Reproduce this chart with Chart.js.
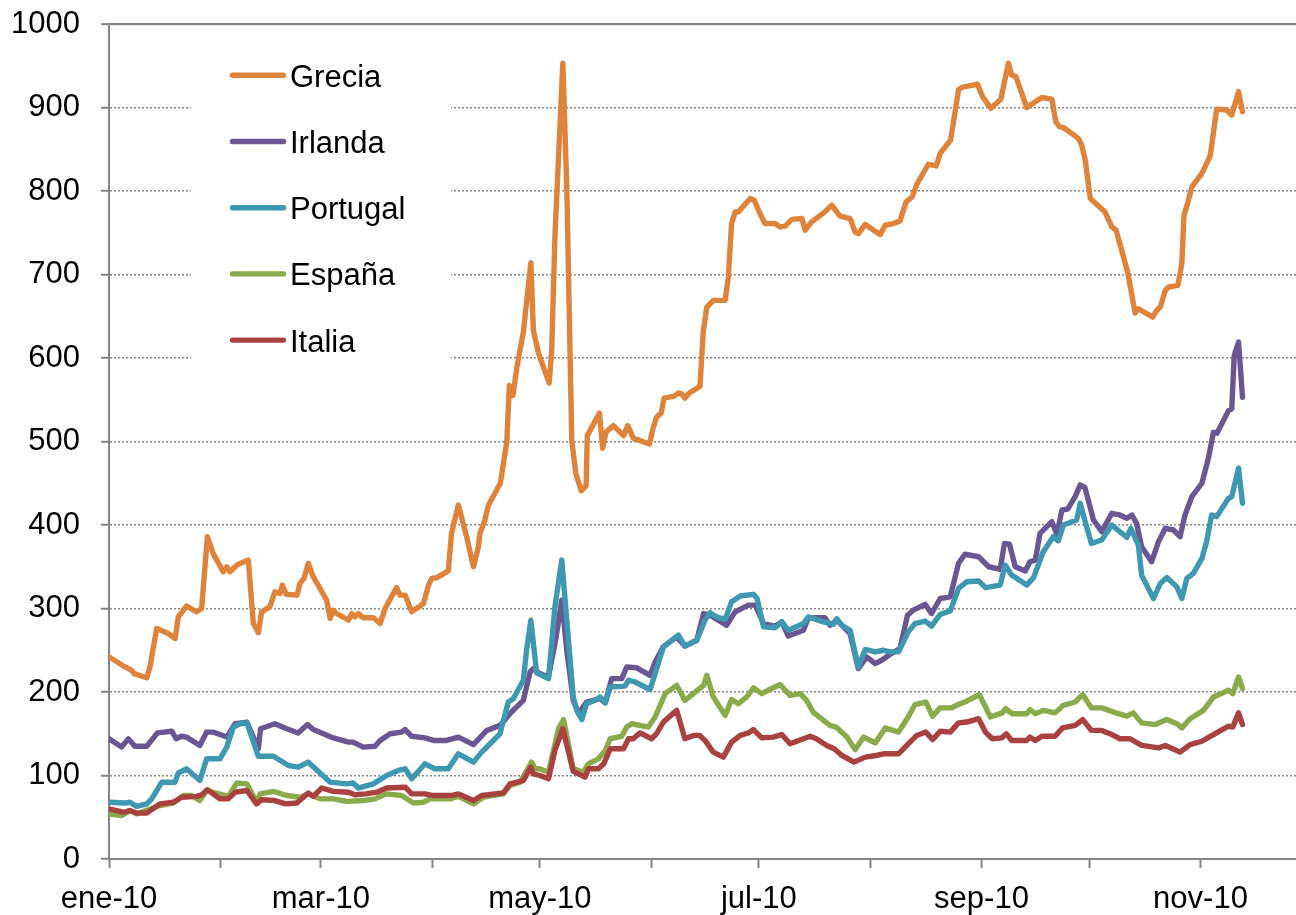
<!DOCTYPE html>
<html lang="es">
<head>
<meta charset="utf-8">
<title>Diferenciales</title>
<script src="https://cdn.jsdelivr.net/npm/chart.js@4.4.0/dist/chart.umd.min.js"></script>
<style>
  html, body { margin: 0; padding: 0; background: #fff; }
  #grafico { display: block; }
</style>
</head>
<body>
<canvas id="grafico" width="1296" height="915"></canvas>
<script>
// x axis: days since 1 Jan 2010, one tick per month, label every other month
const inicioMes = [0, 31, 59, 90, 120, 151, 181, 212, 243, 273, 304];
const etiquetasMes = ['ene-10', '', 'mar-10', '', 'may-10', '', 'jul-10', '', 'sep-10', '', 'nov-10'];

const diasGrecia = [0, 4.5, 6.3, 7, 10.5, 11.4, 13.3, 16.5, 18.4, 19.3, 21.6, 24.4, 25.8, 27.4, 29, 31.8, 32.8, 33.7, 35.6, 38.8,
  40.2, 41.6, 42.5, 44.8, 46.2, 47.6, 48.3, 49.4, 52.4, 53.2, 54.3, 55.5, 56.9, 60.6, 61.6, 62.5, 63.4, 66.7, 67.6, 68.5,
  69.4, 70.8, 73.6, 75.5, 76.9, 80.1, 81, 82.5, 84.3, 87.6, 89, 89.9, 91.3, 94.5, 95.4, 97.3, 99.6, 101.5, 102.9, 103.3,
  104.7, 105.7, 109, 110.8, 111.5, 112.5, 113.6, 115.4, 117.5, 118.2, 119.6, 122.6, 123.3, 124.2, 126.4, 127.5, 128.9, 130, 131.5, 132.9,
  133.2, 136.6, 137.5, 138.4, 140.5, 143.3, 144.5, 146, 150.5, 151.6, 152.5, 153.8, 154.6, 157.2, 158.6, 159.5, 160.4, 161.6, 164.6, 165.5,
  166.5, 168.3, 171.6, 172.5, 173.4, 174.4, 175.3, 178.6, 179.7, 181.3, 182.7, 185.5, 186.9, 188.3, 190.2, 193, 193.9, 195.7, 199.4, 201.3,
  203.6, 206.4, 207.8, 208.7, 210.6, 214.8, 216.2, 218.5, 220.3, 222, 223.7, 225, 228.2, 230.4, 231.5, 234.4, 236.6, 237.5, 241.9, 243.3,
  245.6, 248.4, 250.5, 251.4, 252.6, 255.6, 259.8, 262.6, 263.7, 264.7, 265.8, 270, 270.9, 271.9, 273.3, 277.4, 279.3, 280.5, 283.7, 285.8,
  286.7, 290.7, 291.8, 292.8, 294.2, 295.1, 297.7, 298.8, 299.4, 300.4, 301.6, 304.4, 306.7, 308.5, 311.3, 312.7, 314.6, 315.7];
const grecia = [242, 230, 226, 222, 217, 230, 276, 270, 264, 290, 303, 296, 300, 386, 366, 344, 350, 344, 352, 358,
  282, 271, 296, 302, 320, 318, 328, 317, 316, 330, 336, 354, 338, 310, 288, 298, 294, 286, 294, 290,
  294, 289, 289, 282, 300, 325, 316, 316, 296, 306, 328, 336, 337, 345, 390, 424, 386, 350, 374, 390,
  406, 424, 450, 500, 567, 555, 589, 631, 714, 633, 606, 570, 609, 745, 953, 805, 501, 462, 441, 447,
  507, 534, 492, 511, 519, 507, 519, 504, 497, 517, 529, 534, 552, 554, 558, 557, 552, 558, 566, 631,
  661, 669, 669, 697, 761, 775, 775, 791, 789, 773, 761, 761, 757, 758, 766, 767, 753, 763, 775, 783,
  770, 767, 751, 749, 760, 748, 759, 761, 764, 787, 793, 808, 832, 830, 845, 861, 921, 924, 928, 913,
  899, 910, 953, 939, 937, 900, 912, 910, 883, 877, 876, 863, 855, 837, 791, 775, 757, 753, 703, 654,
  659, 649, 657, 661, 681, 685, 687, 713, 771, 785, 805, 821, 842, 898, 897, 891, 919, 895];

const diasIrlanda = [0, 3.5, 5.4, 7.2, 10.5, 13.5, 17.5, 18.7, 20.2, 21.6, 25.3, 27.2, 29, 32.8, 35.1, 38.4, 41.6, 42.2, 46.2, 49.5,
  52.7, 55.3, 56.9, 62.5, 66.7, 68, 70.8, 74.1, 75.5, 78.3, 81.5, 82.5, 84.3, 88, 90.4, 94, 97.3, 101.5, 105.2, 108.9,
  112.1, 115.4, 117.3, 118.2, 120, 122.4, 124.5, 126.1, 127.5, 129.3, 130.8, 133, 136.8, 138.2, 140, 142.8, 144.2, 147, 150.7, 152.1,
  154.4, 158.1, 160.4, 163.7, 165.6, 167.4, 172, 174.4, 178.1, 180, 182.3, 185.5, 187.4, 189.2, 193.4, 194.8, 199.4, 200.8, 202.7, 206.4,
  208.7, 211, 213.4, 215.2, 217.5, 220.3, 222.4, 224, 227.3, 229.1, 231.5, 234.3, 236.6, 238.4, 242.2, 245, 248.2, 249.4, 250.8, 252.4,
  255.2, 256.5, 258, 259.3, 262.6, 264, 265.4, 267, 269.1, 270.5, 271.8, 274.2, 276.5, 279.3, 281.5, 283.5, 284.9, 286.2, 287.6, 290.4,
  292.3, 294.2, 296.5, 298.3, 299.7, 301.6, 304.4, 306.2, 307.6, 308.6, 311.8, 312.7, 313.4, 314.6, 315.7];
const irlanda = [144, 134, 144, 135, 135, 151, 153, 144, 147, 146, 136, 152, 152, 146, 162, 164, 132, 156, 162, 156,
  151, 161, 155, 145, 140, 140, 134, 135, 142, 150, 152, 155, 147, 145, 142, 142, 146, 137, 154, 160,
  176, 190, 224, 228, 222, 218, 265, 310, 250, 190, 174, 188, 192, 187, 216, 216, 230, 229, 220, 236,
  254, 266, 255, 262, 294, 292, 280, 296, 304, 304, 282, 279, 284, 267, 274, 289, 289, 280, 286, 270,
  228, 242, 234, 238, 245, 252, 292, 298, 305, 294, 312, 314, 354, 365, 362, 350, 347, 378, 377, 350,
  345, 356, 358, 390, 404, 389, 418, 419, 434, 448, 445, 406, 392, 414, 412, 408, 412, 402, 374, 356,
  380, 396, 394, 386, 412, 434, 450, 480, 511, 510, 537, 539, 603, 619, 553];

const diasPortugal = [0, 4.5, 5.8, 7.7, 10.5, 11.9, 14.7, 18.4, 19.3, 21.6, 25.3, 27.2, 30.9, 32.8, 34.6, 36.5, 38.4, 41.6, 45.8, 50,
  52.7, 55.5, 61.6, 66.2, 68, 69.4, 73.6, 77.3, 80.6, 82.5, 84.3, 88, 90.8, 94.5, 97.3, 101.5, 103.8, 105.2, 108.9, 111.2,
  112.6, 115.4, 116.3, 117.5, 119.1, 122.4, 124.2, 126.1, 129.3, 130.3, 131.7, 133, 135.4, 136.8, 138.2, 139.6, 143.7, 144.7, 146.5, 150.7,
  152.1, 154.4, 158.6, 160.4, 163.7, 166, 167.4, 169.2, 171.6, 173.4, 175.8, 179.5, 180.5, 182.3, 185.5, 187.4, 189.2, 193.4, 194.8, 199,
  201.8, 202.7, 204.1, 206.4, 208.7, 210.6, 213.4, 215.7, 217.5, 219.9, 222.6, 224.5, 227.3, 229.1, 231.5, 234.3, 236.6, 238.9, 242.2, 244.1,
  248.2, 249.6, 251.4, 255.6, 257.5, 260.2, 263, 264.4, 265.8, 269.5, 270.5, 271.5, 273.6, 276.5, 279.3, 283.5, 284.6, 286.7, 287.6, 290.9,
  292.8, 294.6, 297.4, 298.8, 300.2, 302, 304.4, 305.7, 307.1, 308.5, 311.8, 312.7, 314.6, 315.7];
const portugal = [68, 67, 68, 63, 66, 72, 92, 92, 103, 108, 94, 120, 120, 134, 158, 162, 163, 123, 123, 112,
  110, 116, 92, 90, 91, 85, 90, 100, 106, 108, 96, 114, 108, 108, 126, 116, 128, 134, 150, 188,
  192, 214, 250, 286, 223, 216, 302, 358, 194, 178, 167, 186, 190, 194, 187, 206, 207, 214, 212, 203,
  222, 254, 268, 255, 262, 286, 295, 290, 287, 308, 315, 317, 312, 278, 277, 284, 274, 282, 290, 284,
  281, 288, 280, 274, 230, 251, 248, 250, 248, 248, 272, 282, 285, 279, 293, 297, 324, 332, 333, 325,
  328, 352, 340, 328, 337, 368, 386, 381, 400, 406, 426, 410, 378, 382, 400, 385, 396, 376, 340, 312,
  330, 337, 326, 312, 336, 342, 360, 380, 412, 410, 432, 434, 468, 426];

const diasEspana = [0, 3.5, 5.8, 7.7, 14.2, 17.9, 20.7, 23, 25.3, 27.2, 33.2, 35.6, 38.4, 41.1, 42.1, 45.8, 49.5, 53.2, 55.5, 58.8,
  62.5, 66.2, 70.8, 74, 77.3, 81.5, 84.8, 87.6, 89.4, 95, 97.3, 101.5, 104.3, 109.8, 111.7, 114.5, 117.7, 118.7, 120, 122.4,
  125.2, 126.6, 129.3, 132.1, 133.5, 136.3, 138.2, 139.6, 142.8, 144.2, 145.6, 150.2, 152.1, 154.9, 158.1, 160.4, 165.6, 166.5, 168.3, 171.6,
  173.4, 175.3, 177.6, 179.5, 181.8, 184, 186.9, 189.7, 192.5, 194.3, 196.1, 200.8, 202.5, 205.5, 207.8, 210.2, 213.4, 216.2, 219.9, 222.6,
  224.5, 227.5, 229.4, 231.5, 234.7, 236, 238.9, 242.4, 245.5, 248.8, 249.7, 251.6, 255.6, 256.5, 258, 260.2, 263.5, 265.8, 269.1, 271.2,
  273.6, 276.5, 281.1, 283.5, 285.3, 287.6, 291.4, 294.6, 297.4, 298.8, 301.1, 304.8, 307.6, 311.8, 313, 314.6, 315.7];
const espana = [54, 52, 58, 54, 64, 67, 76, 76, 70, 82, 75, 91, 90, 68, 78, 81, 76, 74, 78, 72,
  72, 69, 70, 72, 78, 76, 67, 68, 72, 72, 75, 66, 74, 78, 88, 92, 116, 108, 108, 104,
  156, 167, 108, 104, 114, 120, 130, 144, 147, 158, 162, 158, 170, 198, 208, 190, 208, 220, 194, 172,
  191, 186, 194, 205, 198, 203, 209, 196, 198, 190, 176, 160, 158, 146, 131, 146, 139, 157, 152, 170,
  185, 188, 171, 181, 181, 184, 189, 197, 170, 175, 180, 174, 174, 179, 174, 178, 175, 184, 188, 197,
  181, 181, 174, 171, 175, 163, 161, 167, 162, 157, 168, 178, 194, 202, 198, 218, 204];

const diasItalia = [0, 4, 5.8, 7.7, 10.5, 14.2, 17.9, 20.2, 24.4, 25.8, 27.4, 30.9, 33.2, 35.1, 38.4, 41.1, 42.5, 46.2, 49.2, 52.3,
  55.5, 56.9, 59.2, 62.5, 66.7, 68.5, 71.5, 74.6, 77.3, 82.5, 84.3, 88, 90.4, 95.4, 97.3, 101.5, 103.8, 109.8, 111.7, 115.4,
  117.5, 118.2, 120, 122.4, 124.2, 126.4, 129.3, 132.6, 133.5, 136.3, 137.8, 139.6, 143.3, 144.7, 146, 147.9, 151.1, 152.5, 154.4, 158.1,
  160.4, 162.8, 164.5, 166, 168.3, 171.1, 173.4, 175.8, 178.1, 179.5, 181.8, 185, 187.4, 189.7, 193.4, 195.3, 197, 199.9, 202, 204.1,
  207.5, 210.6, 213.8, 215.7, 219.9, 222.4, 225, 227.5, 229.4, 231.5, 234.3, 236.6, 238.9, 242.2, 244.1, 246, 248.6, 249.9, 251.4, 255.6,
  256.5, 258, 259.8, 263.5, 265.6, 269.1, 271.2, 273.6, 276.5, 279.3, 281.6, 284.4, 287.6, 292.3, 294.2, 298.3, 301.1, 304.4, 307.6, 311.8,
  313, 314.6, 315.7];
const italia = [60, 56, 58, 55, 55, 66, 68, 74, 75, 77, 83, 72, 72, 80, 82, 66, 71, 70, 66, 67,
  79, 75, 85, 81, 80, 77, 78, 80, 85, 86, 78, 78, 76, 76, 78, 70, 76, 79, 90, 94,
  110, 102, 100, 96, 130, 156, 105, 98, 108, 108, 114, 132, 132, 144, 144, 151, 144, 150, 164, 178,
  144, 148, 148, 142, 128, 122, 140, 148, 151, 155, 145, 146, 149, 138, 144, 147, 144, 136, 132, 124,
  116, 122, 124, 126, 126, 137, 148, 152, 143, 153, 152, 163, 164, 168, 152, 144, 145, 150, 142, 142,
  146, 142, 147, 147, 157, 160, 167, 154, 154, 149, 144, 144, 136, 133, 136, 128, 137, 141, 149, 159,
  158, 175, 161];

const paises = ['Grecia', 'Irlanda', 'Portugal', 'España', 'Italia'];
const colores = ['#e0833a', '#6b5694', '#3f98b1', '#8baa4b', '#a9423f'];

// pair days with values for the linear x scale
function puntos(dias, valores) {
    return dias.map((d, i) => ({ x: d, y: valores[i] }));
}

const series = [
    puntos(diasGrecia, grecia),
    puntos(diasIrlanda, irlanda),
    puntos(diasPortugal, portugal),
    puntos(diasEspana, espana),
    puntos(diasItalia, italia)
];

const gris = '#858585';
const fuente = { family: 'Arial, "Liberation Sans", sans-serif', size: 31 };

// legend drawn inside the plot, top left, on a white box
const leyenda = {
    id: 'leyenda',
    afterDraw(chart) {
        const ctx = chart.ctx;
        const area = chart.chartArea;
        ctx.save();
        ctx.fillStyle = '#fff';
        ctx.fillRect(area.left + 82, area.top + 16, 260, 336);
        ctx.font = '31px Arial, "Liberation Sans", sans-serif';
        ctx.textBaseline = 'alphabetic';
        ctx.lineCap = 'round';
        chart.data.datasets.forEach((ds, i) => {
            const y = area.top + 51.3 + i * 66.2;
            ctx.strokeStyle = ds.borderColor;
            ctx.lineWidth = 5.4;
            ctx.beginPath();
            ctx.moveTo(area.left + 123.5, y);
            ctx.lineTo(area.left + 174.5, y);
            ctx.stroke();
            ctx.fillStyle = '#000';
            ctx.fillText(ds.label, area.left + 181, y + 11.5);
        });
        ctx.restore();
    }
};

new Chart(document.getElementById('grafico'), {
    type: 'line',
    data: {
        datasets: paises.map((p, i) => ({
            label: p,
            data: series[i],
            borderColor: colores[i],
            backgroundColor: colores[i],
            borderWidth: 5.4,
            borderJoinStyle: 'round',
            borderCapStyle: 'round',
            pointRadius: 0,
            tension: 0,
            fill: false,
            order: paises.length - i
        }))
    },
    options: {
        responsive: false,
        animation: false,
        devicePixelRatio: 1,
        layout: { padding: { top: 24, right: 0, bottom: 0, left: 0 } },
        plugins: {
            legend: { display: false },
            tooltip: { enabled: false }
        },
        scales: {
            x: {
                type: 'linear',
                min: 0,
                max: 330.6,
                afterBuildTicks(scale) {
                    scale.ticks = inicioMes.map(v => ({ value: v }));
                },
                afterFit(scale) {
                    scale.height = 56;
                },
                ticks: {
                    autoSkip: false,
                    maxRotation: 0,
                    padding: 13,
                    color: '#000',
                    font: fuente,
                    callback: (value, index) => etiquetasMes[index]
                },
                grid: {
                    drawOnChartArea: false,
                    tickLength: 9,
                    tickWidth: 2,
                    tickColor: gris
                },
                border: { color: gris, width: 2 }
            },
            y: {
                min: 0,
                max: 1000,
                afterFit(scale) {
                    // fixed axis width; the label overhang fits inside the top padding
                    scale.width = 109;
                    scale.paddingTop = 0;
                    scale.paddingBottom = 0;
                },
                ticks: {
                    stepSize: 100,
                    padding: 21,
                    color: '#000',
                    font: fuente,
                    callback: value => String(value)
                },
                grid: {
                    color: gris,
                    lineWidth: ctx => (ctx.tick && ctx.tick.value === 1000 ? 2.2 : 1.5),
                    tickLength: 8,
                    tickWidth: 2,
                    tickColor: gris
                },
                border: {
                    color: gris,
                    width: 2,
                    dash: ctx => (ctx.tick && ctx.tick.value < 1000 ? [2, 2] : [])
                }
            }
        }
    },
    plugins: [leyenda]
});
</script>
</body>
</html>
